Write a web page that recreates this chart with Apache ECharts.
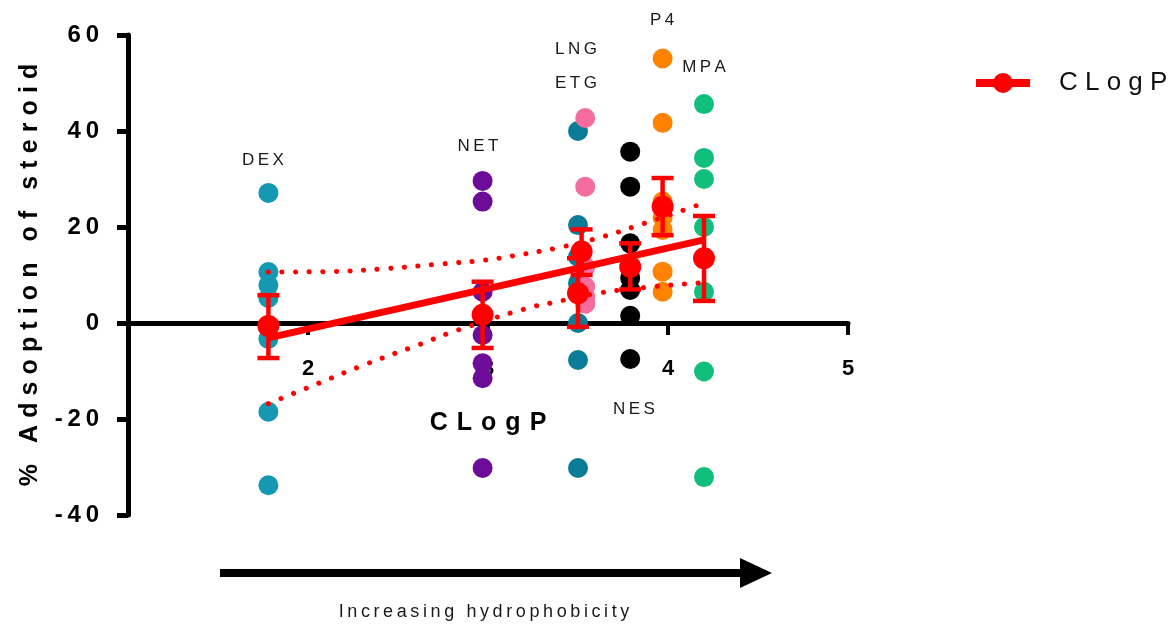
<!DOCTYPE html>
<html>
<head>
<meta charset="utf-8">
<script src="https://cdn.jsdelivr.net/npm/echarts@6/dist/echarts.min.js"></script>
<style>
html,body{margin:0;padding:0;background:#fff;}
#main{width:1172px;height:624px;}
</style>
</head>
<body>
<div id="main"></div>
<script>
// steroids and their CLogP (x)
var names  = ['DEX', 'NET', 'ETG', 'LNG', 'NES', 'P4', 'MPA'];
var clogp  = [1.78, 2.97, 3.50, 3.54, 3.79, 3.97, 4.20];
var colors = ['#1598b2', '#6d0c99', '#0b7b96', '#f46d9e', '#000000', '#ff8200', '#0fbf7b'];

// % adsorption, single replicates
var dexVals = [27.1, 10.6, 7.9, 5.2, -3.3, -18.5, -33.8];
var netVals = [29.6, 25.3, 6.5, -2.5, -8.4, -11.5, -30.2];
var etgVals = [40.0, 20.4, 13.8, 8.3, 0.0, -7.7, -30.2];
var lngVals = [42.7, 28.4, 11.7, 7.6, 5.5, 4.2, 4.0];
var nesVals = [35.7, 28.4, 16.6, 9.4, 6.9, 1.5, -7.5];
var p4Vals  = [55.1, 41.7, 25.3, 22.0, 19.4, 10.7, 6.5];
var mpaVals = [45.6, 34.4, 30.0, 20.0, 6.5, -10.1, -32.1];
var allVals = [dexVals, netVals, etgVals, lngVals, nesVals, p4Vals, mpaVals];

// mean and SEM limits (same order as names)
var meanX   = [1.78, 2.97, 3.50, 3.52, 3.79, 3.97, 4.20];
var meanVal = [-0.6, 1.7, 6.2, 14.9, 11.7, 24.2, 13.5];
var semLow  = [-7.3, -5.2, -0.8, 10.0, 7.0, 18.3, 4.6];
var semHigh = [5.8, 8.6, 13.5, 19.5, 16.6, 30.2, 22.3];

// linear fit and 95% band
var fitX = [1.78, 4.20];
var fitY = [-3.1, 17.3];
var upperX = [1.78, 2.10, 2.42, 2.74, 2.98, 3.14, 3.38, 3.61, 3.84, 4.20];
var upperY = [10.6, 10.7, 11.3, 12.3, 13.1, 14.0, 15.6, 17.7, 20.4, 25.0];
var lowerX = [1.78, 2.01, 2.31, 2.61, 2.83, 3.22, 3.38, 3.61, 3.90, 4.20];
var lowerY = [-16.8, -13.3, -8.75, -4.6, -1.5, 3.1, 4.4, 6.2, 7.5, 8.4];

var FONT = '"Liberation Sans", Arial, sans-serif';
function spaced(s, sep) { return String(s).split('').join(sep || '\u2009'); }
function pairs(xs, ys) { return xs.map(function (x, i) { return [x, ys[i]]; }); }

var chart = echarts.init(document.getElementById('main'));

var series = [];
names.forEach(function (n, i) {
    series.push({
        name: n,
        type: 'scatter',
        symbolSize: 20,
        z: 2,
        itemStyle: { color: colors[i], opacity: 1 },
        data: allVals[i].map(function (v) { return [clogp[i], v]; })
    });
});

var dotted = { color: '#ff0000', width: 5, type: [0.1, 13.5], cap: 'round' };
series.push({
    name: 'upper', type: 'line', smooth: true, showSymbol: false, symbol: 'none', z: 3,
    lineStyle: dotted,
    data: pairs(upperX, upperY)
});
series.push({
    name: 'lower', type: 'line', smooth: true, showSymbol: false, symbol: 'none', z: 3,
    lineStyle: dotted,
    data: pairs(lowerX, lowerY)
});
series.push({
    name: 'fit', type: 'line', showSymbol: false, symbol: 'none', z: 4,
    lineStyle: { color: '#ff0000', width: 7 },
    data: pairs(fitX, fitY)
});
// error bars (SEM)
series.push({
    name: 'sem', type: 'custom', z: 5,
    renderItem: function (params, api) {
        var x = api.value(0);
        var pLo = api.coord([x, api.value(1)]);
        var pHi = api.coord([x, api.value(2)]);
        var w = 11;
        var st = { stroke: '#ff0000', lineWidth: 4.5 };
        return {
            type: 'group',
            children: [
                { type: 'line', shape: { x1: pLo[0], y1: pLo[1], x2: pHi[0], y2: pHi[1] }, style: st },
                { type: 'line', shape: { x1: pLo[0] - w, y1: pLo[1], x2: pLo[0] + w, y2: pLo[1] }, style: st },
                { type: 'line', shape: { x1: pHi[0] - w, y1: pHi[1], x2: pHi[0] + w, y2: pHi[1] }, style: st }
            ]
        };
    },
    data: meanX.map(function (x, i) { return [x, semLow[i], semHigh[i]]; })
});
series.push({
    name: 'CLogP', type: 'line', symbol: 'circle', symbolSize: 22, z: 6,
    itemStyle: { color: '#ff0000' },
    lineStyle: { width: 0, opacity: 0, color: '#ff0000' },
    data: pairs(meanX, meanVal)
});

// compound labels
var labelPos = {
    DEX: [263, 160], NET: [478, 146], LNG: [576, 49], ETG: [576, 83],
    P4: [662, 20], MPA: [704, 67], NES: [634, 409]
};
var graphics = Object.keys(labelPos).map(function (k) {
    return {
        type: 'text', x: labelPos[k][0], y: labelPos[k][1], z: 10,
        style: { text: spaced(k), font: '17px ' + FONT, fill: '#1a1a1a', align: 'center', verticalAlign: 'middle' }
    };
});
// hydrophobicity arrow
graphics.push({
    type: 'line', shape: { x1: 220, y1: 573, x2: 745, y2: 573 },
    style: { stroke: '#000', lineWidth: 8 }
});
graphics.push({
    type: 'polygon', shape: { points: [[740, 558], [772, 573], [740, 588]] },
    style: { fill: '#000' }
});
graphics.push({
    type: 'text', x: 484, y: 612,
    style: { text: spaced('Increasing hydrophobicity'), font: '18px ' + FONT, fill: '#1a1a1a', align: 'center', verticalAlign: 'middle' }
});

var option = {
    animation: false,
    backgroundColor: '#fff',
    grid: { left: 128, right: 324, top: 35, bottom: 109, containLabel: false, outerBoundsMode: 'none' },
    legend: {
        data: ['CLogP'],
        left: 972, top: 70, padding: 0,
        itemWidth: 54, itemHeight: 25,
        lineStyle: { width: 8, color: '#ff0000', opacity: 1 },
        formatter: function (n) { return spaced(n, ' '); },
        textStyle: { fontSize: 26, color: '#111', fontFamily: FONT, padding: [0, 0, 0, 24] }
    },
    xAxis: {
        type: 'value', min: 1, max: 5, interval: 1,
        name: spaced('CLogP', ' \u200a'),
        nameLocation: 'middle', nameGap: -104,
        nameTextStyle: { fontSize: 25, fontWeight: 'bold', color: '#000', fontFamily: FONT },
        axisLine: { onZero: true, lineStyle: { color: '#000', width: 5 } },
        axisTick: { length: 12, lineStyle: { color: '#000', width: 4 } },
        axisLabel: {
            showMinLabel: false, margin: -157,
            fontSize: 22, fontWeight: 'bold', color: '#000', fontFamily: FONT
        },
        splitLine: { show: false }
    },
    yAxis: {
        type: 'value', min: -40, max: 60, interval: 20,
        name: spaced('% Adsoption of steroid', '\u2009\u200a'),
        nameLocation: 'middle', nameGap: 85, nameRotate: 90,
        nameTextStyle: { fontSize: 25, fontWeight: 'bold', color: '#000', fontFamily: FONT },
        axisLine: { onZero: false, lineStyle: { color: '#000', width: 5 } },
        axisTick: { length: 11, lineStyle: { color: '#000', width: 5 } },
        axisLabel: {
            margin: 29, fontSize: 24, fontWeight: 'bold', color: '#000', fontFamily: FONT,
            formatter: function (v) { return spaced(v); }
        },
        splitLine: { show: false }
    },
    graphic: graphics,
    series: series
};
chart.setOption(option);
</script>
</body>
</html>
